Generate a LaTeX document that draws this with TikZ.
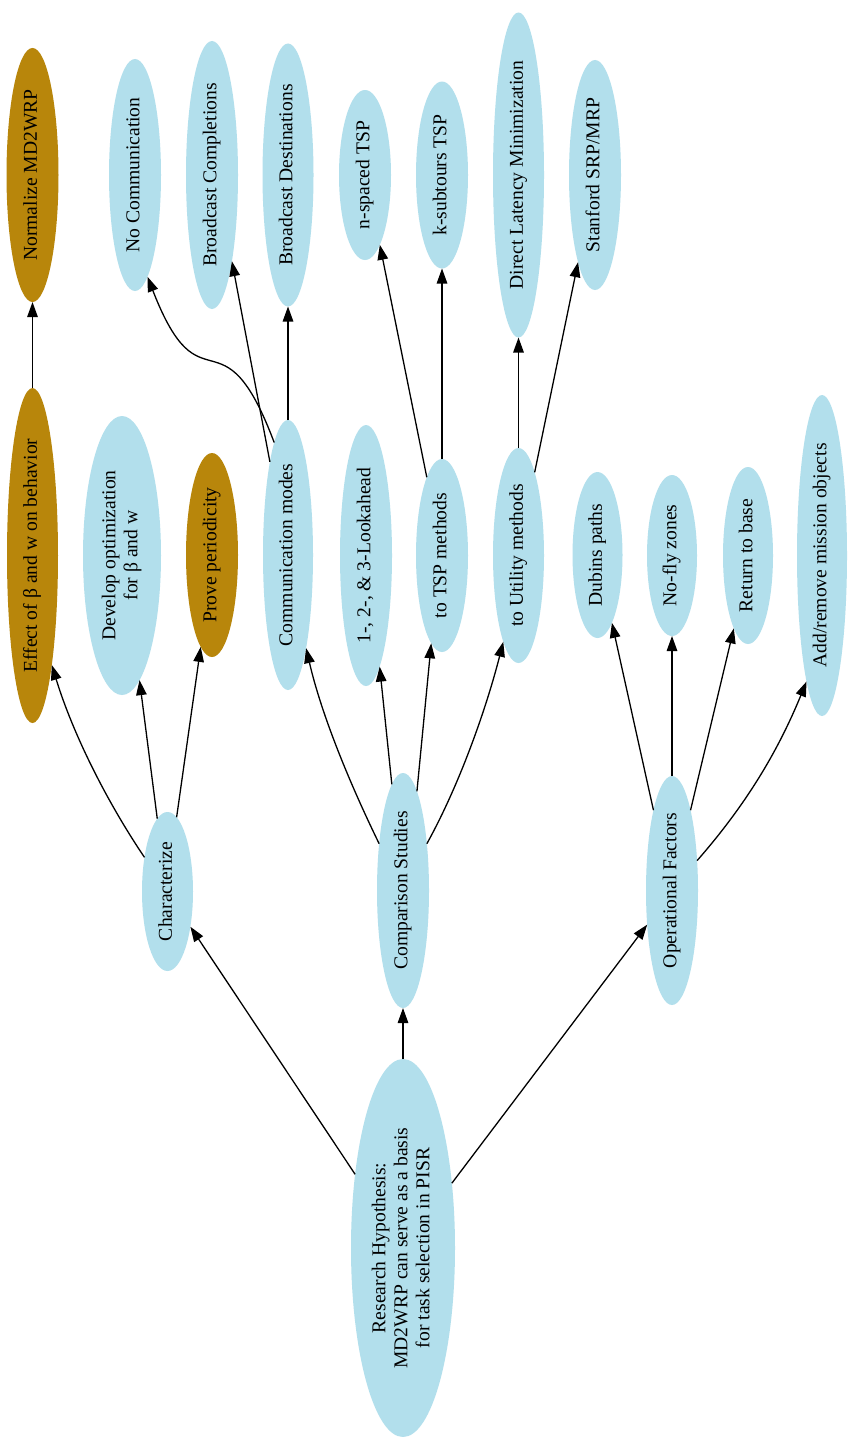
\documentclass[tikz,border=0pt]{standalone}
\usepackage{fontspec}
\setmainfont{Liberation Serif}
\usetikzlibrary{shapes.geometric,arrows.meta}
\definecolor{skyfill}{RGB}{178,223,236}
\definecolor{goldfill}{RGB}{184,134,11}
\tikzset{
  oval/.style={ellipse, draw=none, fill=skyfill, inner sep=0pt, outer sep=0pt,
    font=\fontsize{19.6}{22}\selectfont},
  goal/.style={oval, fill=goldfill},
  conn/.style={draw=black, line width=1.3pt, -{Triangle[length=15pt,width=10.5pt]}},
}
% rotated (bottom-to-top) label, possibly several centred lines
\newcommand{\vlab}[1]{\rotatebox{90}{\begin{tabular}{@{}c@{}}#1\end{tabular}}}
\begin{document}
\begin{tikzpicture}[x=1pt,y=1pt]
\useasboundingbox (0,-1437) rectangle (850,0);
\fill[white] (0,-1437) rectangle (850,0);

% root
\node[oval, minimum width=104pt, minimum height=378pt] (rh) at (403,-1248)
  {\vlab{Research Hypothesis:\\MD2WRP can serve as a basis\\for task selection in PISR}};

% first level
\node[oval, minimum width=51pt, minimum height=159pt] (char) at (167.5,-891.5) {\vlab{Characterize}};
\node[oval, minimum width=52pt, minimum height=235pt] (comp) at (403,-890.5) {\vlab{Comparison Studies}};
\node[oval, minimum width=52pt, minimum height=229pt] (oper) at (672,-890.5) {\vlab{Operational Factors}};

% second level
\node[goal, minimum width=51pt, minimum height=335pt] (effect) at (32.5,-555.5) {\vlab{Effect of β and w on behavior}};
\node[oval, minimum width=78pt, minimum height=279pt] (dev) at (122,-555.5) {\vlab{Develop optimization\\for β and w}};
\node[goal, minimum width=52pt, minimum height=204pt] (prove) at (212,-555) {\vlab{Prove periodicity}};
\node[oval, minimum width=50pt, minimum height=270pt] (comm) at (288,-555) {\vlab{Communication modes}};
\node[oval, minimum width=52pt, minimum height=261pt] (look) at (366,-555.5) {\vlab{1-, 2-, \& 3-Lookahead}};
\node[oval, minimum width=52pt, minimum height=193pt] (tsp) at (442,-555.5) {\vlab{to TSP methods}};
\node[oval, minimum width=51pt, minimum height=215pt] (util) at (518.5,-555.5) {\vlab{to Utility methods}};
\node[oval, minimum width=50pt, minimum height=166pt] (dub) at (597.5,-555) {\vlab{Dubins paths}};
\node[oval, minimum width=50pt, minimum height=161pt] (nofly) at (672,-555.5) {\vlab{No-fly zones}};
\node[oval, minimum width=50pt, minimum height=177pt] (ret) at (748,-555.5) {\vlab{Return to base}};
\node[oval, minimum width=50pt, minimum height=321pt] (add) at (822,-555.5) {\vlab{Add/remove mission objects}};

% third level
\node[goal, minimum width=52pt, minimum height=254pt] (norm) at (32.5,-175) {\vlab{Normalize MD2WRP}};
\node[oval, minimum width=52pt, minimum height=232pt] (nocomm) at (135,-175) {\vlab{No Communication}};
\node[oval, minimum width=52pt, minimum height=268pt] (bc) at (212,-175) {\vlab{Broadcast Completions}};
\node[oval, minimum width=51pt, minimum height=263pt] (bd) at (288,-175) {\vlab{Broadcast Destinations}};
\node[oval, minimum width=52pt, minimum height=170pt] (ns) at (365,-175) {\vlab{n-spaced TSP}};
\node[oval, minimum width=52pt, minimum height=187pt] (ks) at (442,-175) {\vlab{k-subtours TSP}};
\node[oval, minimum width=51pt, minimum height=325pt] (dl) at (518.5,-175) {\vlab{Direct Latency Minimization}};
\node[oval, minimum width=52pt, minimum height=230pt] (st) at (595,-175) {\vlab{Stanford SRP/MRP}};

% connectors from the root
\draw[conn] (rh.123.5) -- (char.-57);
\draw[conn] (rh.north) -- (comp.south);
\draw[conn] (rh.53) -- (oper.-126.7);

% Characterize
\draw[conn] (char.124) .. controls +(124:70) and +(287:70) .. (effect.-80.3);
\draw[conn] (char.98) -- (dev.-82.8);
\draw[conn] (char.83) -- (prove.-97);
\draw[conn] (effect.north) -- (norm.south);

% Comparison Studies
\draw[conn] (comp.117) .. controls +(116:68) and +(283:68) .. (comm.-79);
\draw[conn] (comp.96.6) -- (look.-83.5);
\draw[conn] (comp.82.9) -- (tsp.-97);
\draw[conn] (comp.63.2) .. controls +(61:68) and +(255.7:68) .. (util.-100);

% Operational Factors
\draw[conn] (oper.103.4) -- (dub.-78.6);
\draw[conn] (oper.north) -- (nofly.south);
\draw[conn] (oper.77.2) -- (ret.-101.4);
\draw[conn] (oper.50.7) .. controls +(48.8:75) and +(247.7:75) .. (add.-97.8);

% Communication modes
\draw[conn] (comm.97) .. controls +(110.6:149) and +(291.2:149) .. (nocomm.-83.3);
\draw[conn] (comm.101.9) -- (bc.-77.5);
\draw[conn] (comm.north) -- (bd.south);

% TSP and utility methods
\draw[conn] (tsp.101.2) -- (ns.-78);
\draw[conn] (tsp.north) -- (ks.south);
\draw[conn] (util.north) -- (dl.south);
\draw[conn] (util.79.2) -- (st.-101);
\end{tikzpicture}
\end{document}
